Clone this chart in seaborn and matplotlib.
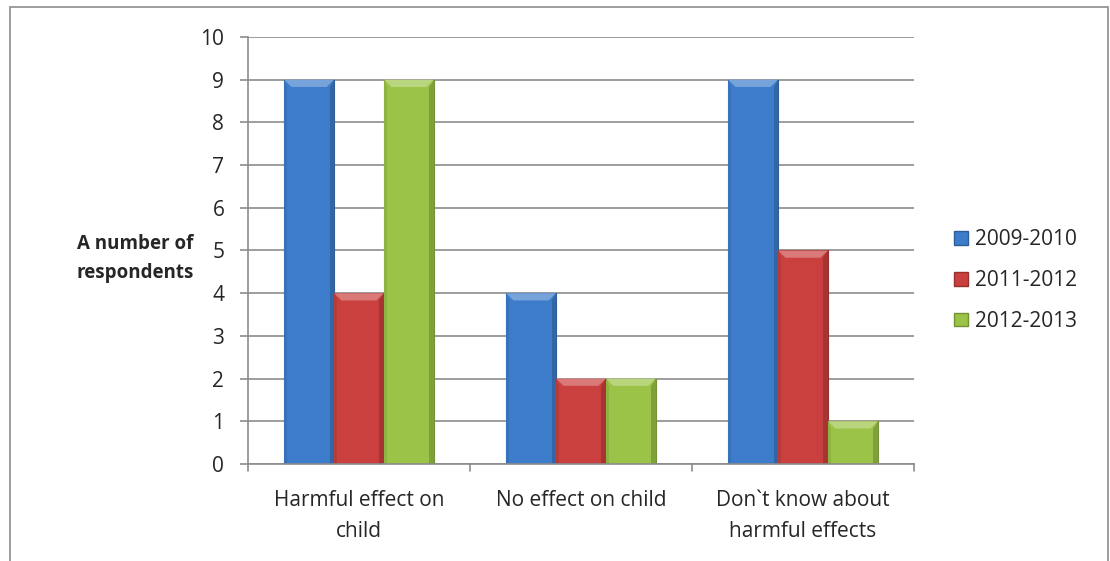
import pandas as pd
import matplotlib.pyplot as plt
import matplotlib.colors as mcolors
import seaborn as sns
from matplotlib.patches import Rectangle, Polygon

categories = ["Harmful effect on\nchild", "No effect on child", "Don`t know about\nharmful effects"]
years = ["2009-2010", "2011-2012", "2012-2013"]
v2009 = [9, 4, 9]
v2011 = [4, 2, 5]
v2012 = [9, 2, 1]

df = pd.DataFrame({
    "category": categories * 3,
    "year": [years[0]] * 3 + [years[1]] * 3 + [years[2]] * 3,
    "value": v2009 + v2011 + v2012,
})

colors = ["#3D7CCB", "#C9403E", "#9BC347"]

sns.set_style("white")
plt.rcParams["font.family"] = ["Open Sans", "DejaVu Sans"]
fs = 15


def shade(c, f):
    r, g, b = mcolors.to_rgb(c)
    if f > 0:
        return (r + (1 - r) * f, g + (1 - g) * f, b + (1 - b) * f)
    return (r * (1 + f), g * (1 + f), b * (1 + f))


fig = plt.figure(figsize=(11.1, 5.61), dpi=100)
ax = fig.add_axes([0.2234, 0.173, 0.6, 0.761])

sns.barplot(data=df, x="category", y="value", hue="year", palette=colors,
            width=0.675, saturation=1, ax=ax, legend=False)

ax.set_ylim(0, 10)
ax.set_xlim(-0.5, 2.5)

# excel-like bevel on each bar
for bar in list(ax.patches):
    bar.set_edgecolor(shade(bar.get_facecolor(), -0.25))
    bar.set_linewidth(0.8)
    x0, w, h = bar.get_x(), bar.get_width(), bar.get_height()
    fc = bar.get_facecolor()
    bx = w * 0.15
    by = 0.17
    ax.add_patch(Polygon([(x0, h), (x0 + w, h), (x0 + w - bx, h - by), (x0 + bx, h - by)],
                         closed=True, facecolor=shade(fc, 0.3), edgecolor="none", zorder=bar.get_zorder()))
    ax.add_patch(Polygon([(x0 + w, h), (x0 + w, 0), (x0 + w - bx * 0.6, 0), (x0 + w - bx * 0.6, h - by)],
                         closed=True, facecolor=shade(fc, -0.18), edgecolor="none", zorder=bar.get_zorder()))
    ax.add_patch(Polygon([(x0, h), (x0, 0), (x0 + bx * 0.4, 0), (x0 + bx * 0.4, h - by)],
                         closed=True, facecolor=shade(fc, -0.08), edgecolor="none", zorder=bar.get_zorder()))

ax.set_yticks(range(0, 11))
ax.yaxis.grid(True, color="#8c8c8c", linewidth=1.2)
ax.set_axisbelow(True)
for s in ["top", "right"]:
    ax.spines[s].set_visible(False)
for s in ["left", "bottom"]:
    ax.spines[s].set_color("#8c8c8c")
    ax.spines[s].set_linewidth(1.2)

ax.tick_params(axis="y", length=6, color="#8c8c8c", width=1.2, labelsize=fs, pad=11, left=True)
ax.set_xticks([0, 1, 2])
ax.set_xticklabels(categories, fontsize=fs, linespacing=1.6)
ax.tick_params(axis="x", length=0, pad=19)
for xb in [-0.5, 0.5, 1.5, 2.5]:
    ax.plot([xb, xb], [0, -0.17], color="#8c8c8c", lw=1.2, clip_on=False)

ax.set_xlabel("")
ax.set_ylabel("")
fig.text(0.122, 0.54, "A number of\nrespondents", fontsize=13.5, fontweight="bold",
         ha="center", va="center", linespacing=1.6)

handles = [Rectangle((0, 0), 1, 1, facecolor=c, edgecolor=shade(c, -0.25)) for c in colors]
fig.legend(handles, years, loc="center left", bbox_to_anchor=(0.843, 0.5),
           frameon=False, fontsize=fs, handlelength=0.65, handleheight=0.65,
           handletextpad=0.35, labelspacing=0.95)

fig.patches.append(Rectangle((0.009, -0.05), 0.989, 1.038, transform=fig.transFigure,
                             fill=False, edgecolor="#8c8c8c", linewidth=1.2))

fig.savefig("out.png", dpi=100)
